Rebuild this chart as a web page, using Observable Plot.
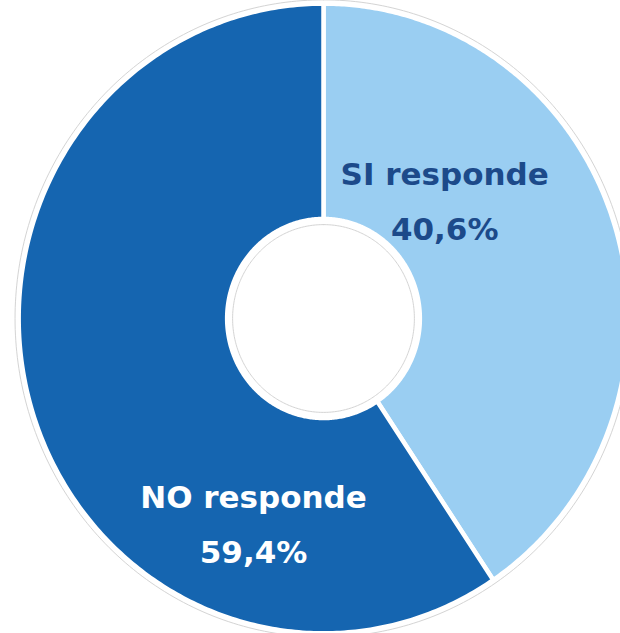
<!DOCTYPE html>
<html><head><meta charset="utf-8">
<script src="https://cdn.jsdelivr.net/npm/d3@7"></script>
<script src="https://cdn.jsdelivr.net/npm/@observablehq/plot@0.6"></script>
<style>body{margin:0;background:#fff;overflow:hidden}</style>
</head><body><div id="chart"></div>
<script>
// data
const categories = ["SI responde", "NO responde"];
const values = [40.6, 59.4];
const valueLabels = ["40,6%", "59,4%"];
const sliceColors = ["#9ACEF2", "#1565B0"];
const textColors = ["#1C4A8A", "#FFFFFF"];

// layout (chart units: outer radius = 1)
const W = 620, H = 633, cx = 323, cy = 318, rx = 303, ry = 313;
const outerR = 1.006, innerR = 0.318;
const labelPos = [[0.400, -0.457, -0.281], [-0.231, 0.575, 0.748]];

const pie = d3.pie().sort(null).value(d => d)(values);
const N = 300;
const pts = [];
pie.forEach((s, i) => {
  for (let k = 0; k <= N; k++) {
    const a = s.startAngle + (s.endAngle - s.startAngle) * k / N;
    pts.push({cat: categories[i], x: outerR * Math.sin(a), y: -outerR * Math.cos(a)});
  }
  for (let k = N; k >= 0; k--) {
    const a = s.startAngle + (s.endAngle - s.startAngle) * k / N;
    pts.push({cat: categories[i], x: innerR * Math.sin(a), y: -innerR * Math.cos(a)});
  }
});
const ring = (r) => d3.range(0, 361).map(t => ({x: r * Math.sin(t * Math.PI / 180), y: -r * Math.cos(t * Math.PI / 180)}));

const marks = [
  Plot.line(ring(1.018), {x: "x", y: "y", stroke: "#d4d4d4", strokeWidth: 1}),
  Plot.line(pts, {x: "x", y: "y", z: "cat", fill: "cat", stroke: "white", strokeWidth: 4.5, curve: "linear-closed", strokeLinejoin: "round"}),
  Plot.line(ring(0.300), {x: "x", y: "y", stroke: "#d4d4d4", strokeWidth: 1})
];
categories.forEach((c, i) => {
  const common = {fontFamily: "DejaVu Sans, Verdana, sans-serif", fontWeight: "bold", fontSize: 31, fill: textColors[i], textAnchor: "middle"};
  marks.push(Plot.text([c], {x: () => labelPos[i][0], y: () => labelPos[i][1], text: d => d, ...common}));
  marks.push(Plot.text([valueLabels[i]], {x: () => labelPos[i][0], y: () => labelPos[i][2], text: d => d, ...common}));
});

const chart = Plot.plot({
  width: W, height: H, margin: 0,
  x: {domain: [-cx / rx, (W - cx) / rx], range: [0, W], axis: null},
  y: {domain: [-cy / ry, (H - cy) / ry], range: [0, H], axis: null},
  color: {domain: categories, range: sliceColors},
  style: {background: "white", overflow: "hidden"},
  marks
});
document.getElementById("chart").appendChild(chart);
</script>
</body></html>
